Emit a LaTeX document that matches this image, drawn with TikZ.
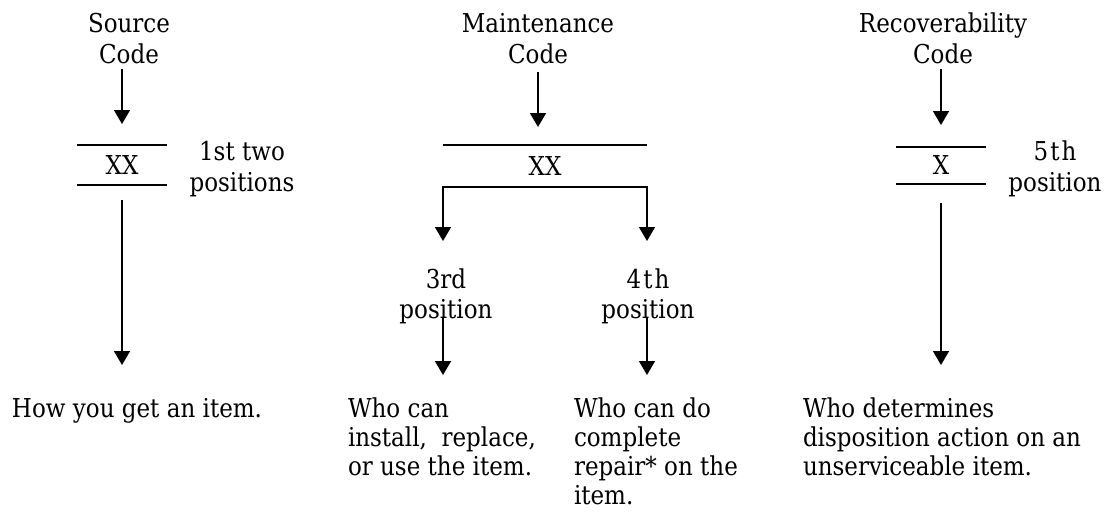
\documentclass[tikz,border=0pt]{standalone}
\usepackage{fontspec}
\setmainfont{DejaVu Serif}[FakeStretch=0.885]
\usetikzlibrary{arrows.meta}
\newcommand\fstrut{\rule{0pt}{22pt}}
\begin{document}
\begin{tikzpicture}[x=1pt,y=-1pt,
  txt/.style={inner sep=0pt, outer sep=0pt, font=\fontsize{26}{31}\selectfont, align=center, anchor=north},
  desc/.style={inner sep=0pt, outer sep=0pt, font=\fontsize{26}{29}\selectfont, align=left, anchor=north west},
  codebox/.style={inner sep=0pt, outer sep=0pt, font=\fontsize{26}{29}\selectfont},
  rule/.style={line width=1.6pt},
  arr/.style={line width=1.5pt, -{Triangle[width=16pt,length=14pt]}}]
\path[use as bounding box] (0,0) rectangle (1109,512);

% top labels
\node[txt] (src) at (129,10) {\fstrut Source\\Code};
\node[txt] (mnt) at (538,10) {\fstrut Maintenance\\Code};
\node[txt] (rec) at (943,10) {\fstrut Recoverability\\Code};

% code boxes
\node[codebox, minimum width=90pt, minimum height=40pt] (xx1) at (122,165) {XX};
\node[codebox, minimum width=204pt, minimum height=42pt] (xx2) at (545,166) {XX};
\node[codebox, minimum width=90pt, minimum height=37pt] (xx3) at (941,165.5) {X};
\draw[rule] (xx1.north west) -- (xx1.north east);
\draw[rule] (xx1.south west) -- (xx1.south east);
\draw[rule] (xx2.north west) -- (xx2.north east);
\draw[rule] (xx3.north west) -- (xx3.north east);
\draw[rule] (xx3.south west) -- (xx3.south east);

% position labels
\node[txt] (pos12) at (242,138) {\fstrut 1st two\\positions};
\node[txt] (pos5) at (1055,138) {\fstrut 5\hspace{2pt}t\hspace{2pt}h\\position};
\node[txt, font=\fontsize{26}{30}\selectfont] (p3) at (446,266) {\fstrut 3rd\\position};
\node[txt, font=\fontsize{26}{30}\selectfont] (p4) at (648,266) {\fstrut 4\hspace{2pt}t\hspace{2pt}h\\position};

% descriptions
\node[desc] (d1) at (12,395) {\fstrut How you get an item.};
\node[desc] (d2) at (348,395) {\fstrut Who can\\install,\ \ replace,\\or use the item.};
\node[desc] (d3) at (574,395) {\fstrut Who can do\\complete\\repair* on the\\item.};
\node[desc] (d4) at (803,395) {\fstrut Who determines\\disposition action on an\\unserviceable item.};

% connectors
\draw[arr, shorten <=6pt, shorten >=21pt] (src.south -| xx1.north) -- (xx1.north);
\draw[arr, shorten <=9pt, shorten >=18pt] (mnt.south) -- (mnt.south |- xx2.north);
\draw[arr, shorten <=6pt, shorten >=22pt] (rec.south -| xx3.north) -- (xx3.north);

\draw[arr, shorten <=15pt, shorten >=30pt] (xx1.south) -- (xx1.south |- d1.north);
\draw[arr, shorten <=19pt, shorten >=30pt] (xx3.south) -- (xx3.south |- d4.north);

\draw[arr, shorten >=25pt] (xx2.south) -| (p3.north -| xx2.south west);
\draw[arr, shorten >=25pt] (xx2.south) -| (p4.north -| xx2.south east);

\draw[arr, shorten >=20pt] ([yshift=6pt]p3.south -| xx2.south west) -- (d2.north -| xx2.south west);
\draw[arr, shorten >=20pt] ([yshift=6pt]p4.south -| xx2.south east) -- (d3.north -| xx2.south east);
\end{tikzpicture}
\end{document}
